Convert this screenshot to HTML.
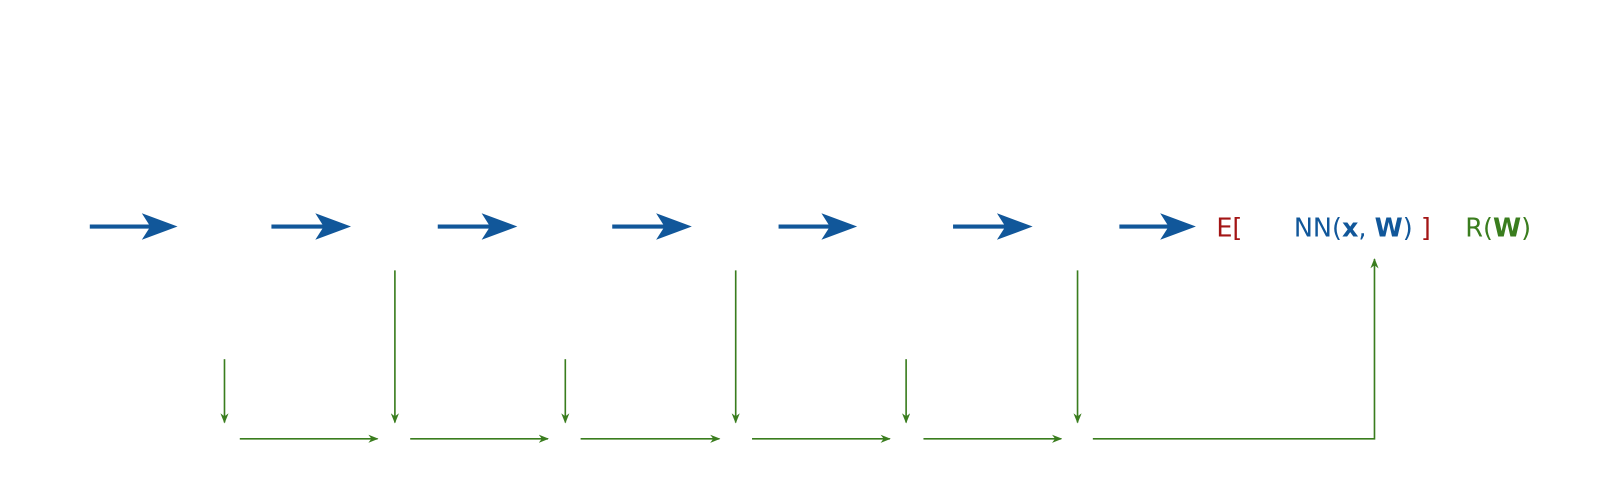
<!DOCTYPE html>
<html><head><meta charset="utf-8"><style>
html,body{margin:0;padding:0;background:#fff;width:1600px;height:492px;overflow:hidden}
text{font-family:"DejaVu Sans","Liberation Sans",sans-serif;font-size:25px}
</style></head><body>
<svg width="1600" height="492" viewBox="0 0 1600 492">
<defs>
<marker id="g" markerWidth="10" markerHeight="8" refX="9" refY="4" orient="auto" markerUnits="userSpaceOnUse"><path d="M0,0 L10,4 L0,8 L3,4 Z" fill="#3a7d1e"/></marker>
</defs>
<g transform="scale(1.0204)">
<g id="blue"></g>
<g id="green" stroke="#3a7d1e" stroke-width="1.6" fill="none"></g>
<text x="1192" y="232" fill="#a31515">E[</text>
<text x="1268" y="232" fill="#11579a">NN(<tspan font-weight="bold">x</tspan>, <tspan font-weight="bold">W</tspan>) <tspan fill="#a31515">]</tspan></text>
<text x="1436" y="232" fill="#3a7d1e">R(<tspan font-weight="bold">W</tspan>)</text>
</g>
</svg>
<script>
const blueArrows=[[88,174],[266,344],[429,507],[600,678],[763,840],[934,1012],[1097,1172]];
const shortDown=[220,554,888];
const longDown=[387,721,1056];
const horiz=[[235,370],[402,537],[569,705],[737,872],[905,1040]];
const NS="http://www.w3.org/2000/svg";
const b=document.getElementById('blue'),g=document.getElementById('green');
blueArrows.forEach(([x1,x2])=>{
 const p=document.createElementNS(NS,'path');
 p.setAttribute('d',`M${x1},220 L${x2-28},220 L${x2-35},209 L${x2},222 L${x2-35},235 L${x2-28},224 L${x1},224 Z`);
 p.setAttribute('fill','#11579a');
 
 
 b.appendChild(p);
});
function line(d,name){
 const p=document.createElementNS(NS,'path');
 p.setAttribute('d',d);
 p.setAttribute('marker-end','url(#g)');
 
 
 g.appendChild(p);
}
shortDown.forEach(x=>line(`M${x},352 L${x},414`,'short-down-arrow'));
longDown.forEach(x=>line(`M${x},265 L${x},414`,'long-down-arrow'));
horiz.forEach(([a,c])=>line(`M${a},430 L${c},430`,'horizontal-arrow'));
line('M1071,430 L1347,430 L1347,254','return-arrow');
</script>
</body></html>
